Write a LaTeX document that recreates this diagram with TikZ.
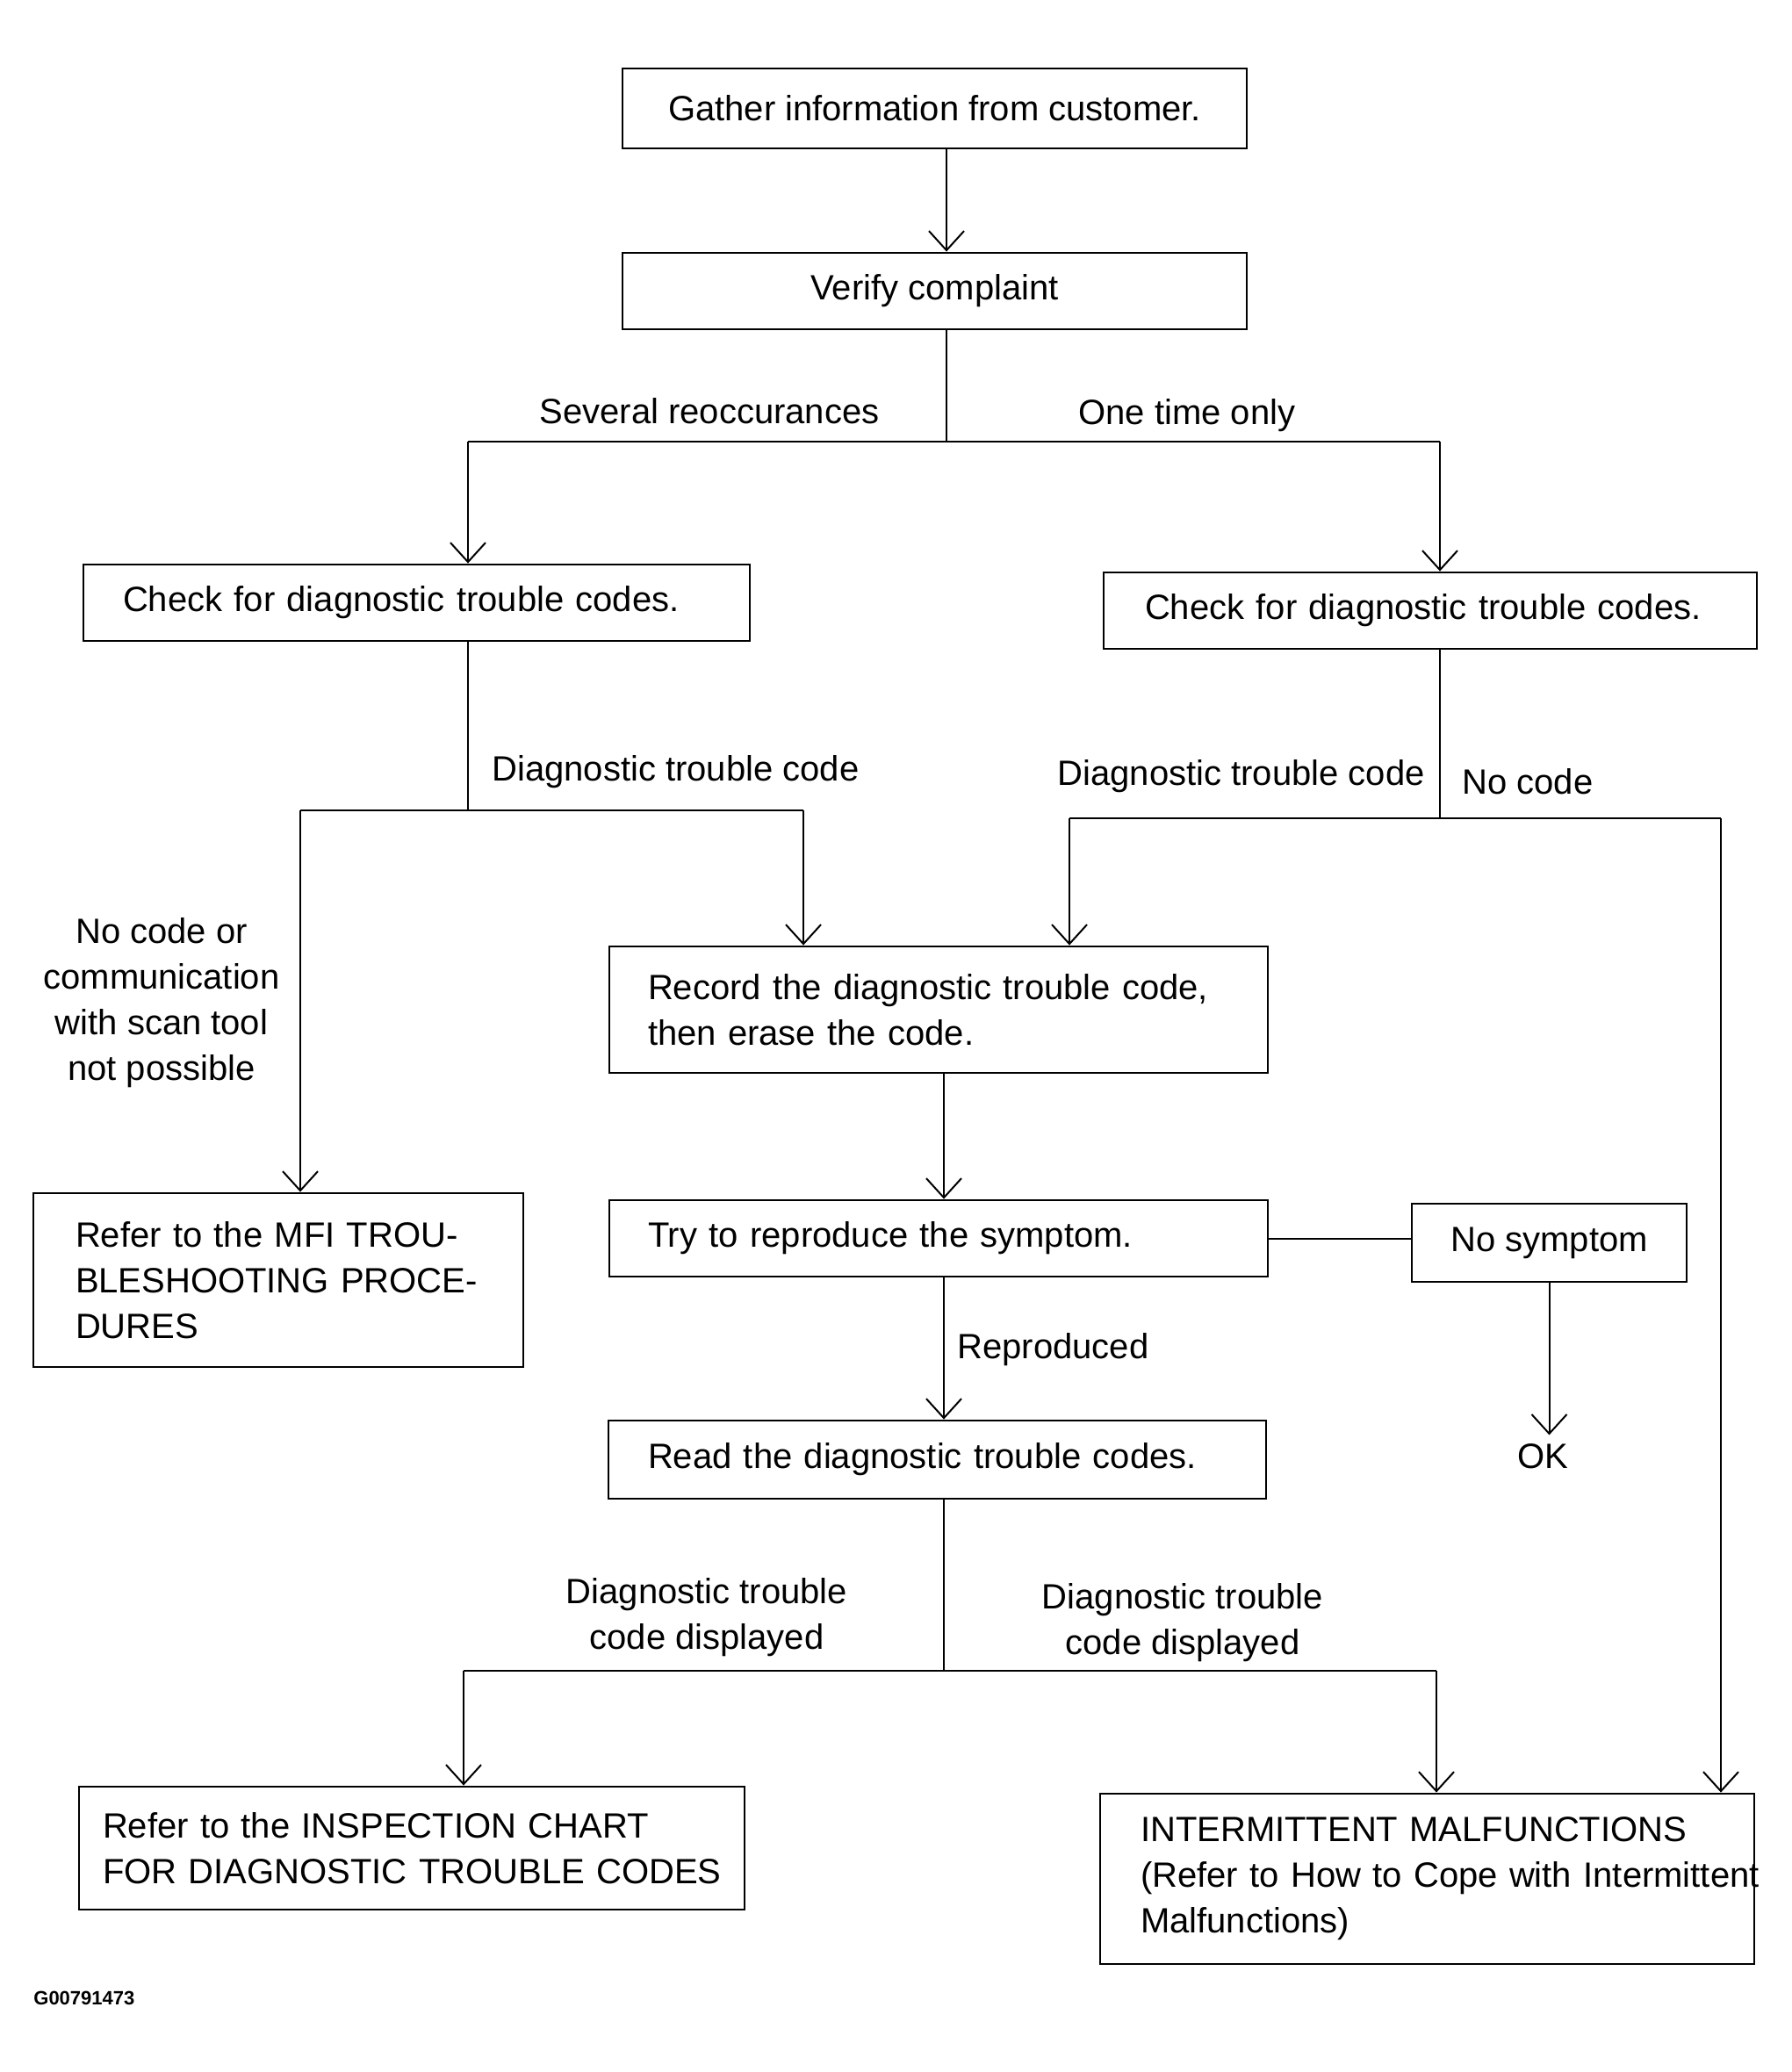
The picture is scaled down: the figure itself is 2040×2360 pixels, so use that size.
\documentclass[tikz,border=0pt]{standalone}
\usepackage{fontspec}
\setmainfont{Liberation Sans}
\usetikzlibrary{arrows.meta}
\begin{document}
\begin{tikzpicture}[x=0.5pt,y=-0.5pt,
  txt/.style={font=\fontsize{20}{26}\selectfont},
  box/.style={txt, draw, line width=1.4pt, rectangle, inner ysep=0pt},
  lbl/.style={txt, inner sep=0pt},
  conn/.style={line width=1pt},
  arr/.style={conn, -{Straight Barb[length=11pt,width=20pt,line width=1pt]}}
]
\useasboundingbox (0,0) rectangle (2040,2360);

% boxes
\node[box, minimum width=355.5pt, minimum height=45.5pt] (gather) at (1064.5,123.5) {Gather information from customer.};
\node[box, minimum width=355.5pt, minimum height=43.5pt] (verify) at (1064.5,331.5) {Verify complaint};
\node[box, inner xsep=22.5pt, text width=334.5pt, align=left, minimum height=43.5pt] (checkL) at (474.5,686.5) {\mbox{Check for diagnostic trouble codes.}};
\node[box, inner xsep=23.5pt, text width=325pt, align=left, minimum height=43.5pt] (checkR) at (1629,695.5) {\mbox{Check for diagnostic trouble codes.}};
\node[box, inner xsep=24pt, text width=231pt, align=left, minimum height=99pt] (mfi) at (317,1458) {\mbox{Refer to the MFI TROU-}\\\mbox{BLESHOOTING PROCE-}\\\mbox{DURES}};
\node[box, inner xsep=22pt, text width=331pt, align=left, minimum height=72pt] (record) at (1069,1150) {\mbox{Record the diagnostic trouble code,}\\\mbox{then erase the code.}};
\node[box, inner xsep=22pt, text width=331pt, align=left, minimum height=43.5pt] (try) at (1069,1410.5) {\mbox{Try to reproduce the symptom.}};
\node[box, minimum width=156.5pt, minimum height=44.5pt] (nosym) at (1764.5,1415.5) {No symptom};
\node[box, inner xsep=22.5pt, text width=329.5pt, align=left, minimum height=44.5pt] (read) at (1067.5,1662.5) {\mbox{Read the diagnostic trouble codes.}};
\node[box, inner xsep=13.5pt, text width=352pt, align=left, minimum height=70pt] (insp) at (469,2105) {\mbox{Refer to the INSPECTION CHART}\\\mbox{FOR DIAGNOSTIC TROUBLE CODES}};
\node[box, inner xsep=23pt, text width=326.5pt, align=left, minimum height=97pt] (inter) at (1625.5,2140) {\mbox{INTERMITTENT MALFUNCTIONS}\\\mbox{(Refer to How to Cope with Intermittent}\\\mbox{Malfunctions)}};

% labels
\node[lbl] (lsev) at (808,468) {Several reoccurances};
\node[lbl] (lone) at (1352,473) {One time only};
\node[lbl, anchor=west] (ldtcL) at (560,879) {Diagnostic trouble code};
\node[lbl, anchor=east] (ldtcR) at (1623,884) {Diagnostic trouble code};
\node[lbl, anchor=west] (lnocode) at (1665,890) {No code};
\node[lbl, align=center] (lnocomm) at (184,1142) {No code or\\communication\\with scan tool\\not possible};
\node[lbl, anchor=west] (lrep) at (1090,1537) {Reproduced};
\node[lbl] (ok) at (1757,1659) {OK};
\node[lbl, align=center] (ldispL) at (805,1842) {Diagnostic trouble\\code displayed};
\node[lbl, align=center] (ldispR) at (1347,1848) {Diagnostic trouble\\code displayed};
\node[inner sep=0pt, anchor=west, font=\fontsize{11}{13}\selectfont\bfseries] (gid) at (38,2276) {G00791473};

% coordinates
\coordinate (xa) at (1078,0);
\coordinate (s1) at (1078,503);
\coordinate (s1l) at (533,503);
\coordinate (s1r) at (1640,503);
\coordinate (s2) at (533,923);
\coordinate (s2l) at (342,923);
\coordinate (s2r) at (915,923);
\coordinate (s3) at (1640,932);
\coordinate (s3l) at (1218,932);
\coordinate (s3r) at (1960,932);
\coordinate (xb) at (1075,0);
\coordinate (s4) at (1075,1903);
\coordinate (s4l) at (528,1903);
\coordinate (s4r) at (1636,1903);
\coordinate (okt) at ([yshift=5pt]ok.north);

% connectors
\draw[arr] (gather.south -| xa) -- (verify.north -| xa);
\draw[conn] (verify.south -| xa) -- (s1);
\draw[conn] (s1l) -- (s1r);
\draw[arr] (s1l) -- (checkL.north -| s1l);
\draw[arr] (s1r) -- (checkR.north -| s1r);

\draw[conn] (checkL.south -| s2) -- (s2);
\draw[conn] (s2l) -- (s2r);
\draw[arr] (s2l) -- (mfi.north -| s2l);
\draw[arr] (s2r) -- (record.north -| s2r);

\draw[conn] (checkR.south -| s3) -- (s3);
\draw[conn] (s3l) -- (s3r);
\draw[arr] (s3l) -- (record.north -| s3l);
\draw[arr] (s3r) -- (inter.north -| s3r);

\draw[arr] (record.south -| xb) -- (try.north -| xb);
\draw[conn] (try.east) -- (try.east -| nosym.west);
\draw[arr] (nosym.south) -- (okt -| nosym.south);
\draw[arr] (try.south -| xb) -- (read.north -| xb);

\draw[conn] (read.south -| s4) -- (s4);
\draw[conn] (s4l) -- (s4r);
\draw[arr] (s4l) -- (insp.north -| s4l);
\draw[arr] (s4r) -- (inter.north -| s4r);
\end{tikzpicture}
\end{document}
